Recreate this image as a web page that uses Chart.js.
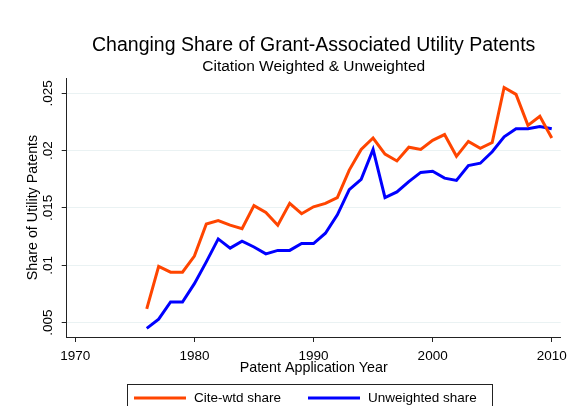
<!DOCTYPE html>
<html>
<head>
<meta charset="utf-8">
<script src="https://cdn.jsdelivr.net/npm/chart.js@4.4.1/dist/chart.umd.min.js"></script>
<style>
  html, body { margin: 0; padding: 0; background: #fff; }
  #wrap { width: 573px; height: 406px; }
</style>
</head>
<body>
<div id="wrap"><canvas id="chart" width="573" height="406"></canvas></div>
<script>
// Grant-associated share of utility patents, 1976-2010

const years = [
  1976, 1977, 1978, 1979, 1980, 1981, 1982, 1983, 1984, 1985, 1986, 1987,
  1988, 1989, 1990, 1991, 1992, 1993, 1994, 1995, 1996, 1997, 1998, 1999,
  2000, 2001, 2002, 2003, 2004, 2005, 2006, 2007, 2008, 2009, 2010
];

const citeWtd = [
  0.0062, 0.0099, 0.0094, 0.0094, 0.0108, 0.0136, 0.0139, 0.0135, 0.0132, 0.0152, 0.0146, 0.0135,
  0.0154, 0.0145, 0.0151, 0.0154, 0.0159, 0.0183, 0.0201, 0.0211, 0.0197, 0.0191, 0.0203, 0.0201,
  0.0209, 0.0214, 0.0195, 0.0208, 0.0202, 0.0207, 0.0255, 0.0249, 0.0222, 0.0230, 0.0211
];

const unweighted = [
  0.0045, 0.0053, 0.0068, 0.0068, 0.0084, 0.0103, 0.0123, 0.0115, 0.0121, 0.0116, 0.0110, 0.0113,
  0.0113, 0.0119, 0.0119, 0.0128, 0.0144, 0.0166, 0.0175, 0.0201, 0.0159, 0.0164, 0.0173, 0.0181,
  0.0182, 0.0176, 0.0174, 0.0187, 0.0189, 0.0199, 0.0212, 0.0219, 0.0219, 0.0221, 0.0219
];

const xTicks = [1970, 1980, 1990, 2000, 2010];
const yTicks = [0.005, 0.01, 0.015, 0.02, 0.025];

const FONT = '"Liberation Sans", Arial, Helvetica, sans-serif';
const INK = '#222';

function toPoints(ys) {
  return years.map((yr, i) => ({ x: yr, y: ys[i] }));
}

// stata style legend: boxed, under the x axis title
const boxLegend = {
  id: 'boxLegend',
  afterDraw(chart) {
    const ctx = chart.ctx;
    const ds = chart.data.datasets;
    ctx.save();
    ctx.strokeStyle = INK;
    ctx.lineWidth = 1;
    ctx.strokeRect(127.5, 384.5, 365, 30);
    ctx.font = '13.5px ' + FONT;
    ctx.fillStyle = '#000';
    ctx.textBaseline = 'middle';
    const slots = [134, 308];
    ds.forEach((d, i) => {
      const x0 = slots[i];
      ctx.strokeStyle = d.borderColor;
      ctx.lineWidth = 3;
      ctx.beginPath();
      ctx.moveTo(x0, 398);
      ctx.lineTo(x0 + 52, 398);
      ctx.stroke();
      ctx.fillText(d.label, x0 + 60, 398);
    });
    ctx.restore();
  }
};

new Chart(document.getElementById('chart'), {
  type: 'line',
  data: {
    datasets: [
      {
        label: 'Cite-wtd share',
        data: toPoints(citeWtd),
        borderColor: '#ff4500',
        borderWidth: 3,
        pointRadius: 0,
        tension: 0,
      },
      {
        label: 'Unweighted share',
        data: toPoints(unweighted),
        borderColor: '#0000ff',
        borderWidth: 3,
        pointRadius: 0,
        tension: 0,
      },
    ],
  },
  options: {
    responsive: false,
    animation: false,
    layout: { padding: { left: 0, right: 10, top: 0, bottom: 22 } },
    plugins: {
      legend: { display: false },
      tooltip: { enabled: false },
      title: {
        display: true,
        fullSize: false,
        text: 'Changing Share of Grant-Associated Utility Patents',
        color: '#000',
        font: { family: FONT, size: 19.5, weight: 'normal' },
        padding: { top: 33.6, bottom: 0 },
      },
      subtitle: {
        display: true,
        fullSize: false,
        text: 'Citation Weighted & Unweighted',
        color: '#000',
        font: { family: FONT, size: 15.5, weight: 'normal' },
        padding: { top: 0, bottom: 2.4 },
      },
    },
    scales: {
      x: {
        type: 'linear',
        min: 1969.28,
        max: 2010.75,
        afterBuildTicks: (s) => { s.ticks = xTicks.map(v => ({ value: v })); },
        afterFit: (s) => { s.height = 47; },
        grid: { drawOnChartArea: false, tickLength: 5, tickColor: INK },
        border: { display: true, color: INK, width: 1 },
        ticks: {
          color: '#000',
          font: { family: FONT, size: 13.5 },
          padding: 6,
          maxRotation: 0,
          callback: (v) => String(v),
        },
        title: {
          display: true,
          text: 'Patent Application Year',
          color: '#000',
          font: { family: FONT, size: 14.3 },
          padding: { top: 0, bottom: 6.9 },
        },
      },
      y: {
        min: 0.00375,
        max: 0.02633,
        afterBuildTicks: (s) => { s.ticks = yTicks.map(v => ({ value: v })); },
        afterFit: (s) => { s.width = 66.7; },
        grid: { color: '#eaf2f3', lineWidth: 1, tickLength: 5, tickColor: INK },
        border: { display: true, color: INK, width: 1 },
        ticks: {
          color: '#000',
          font: { family: FONT, size: 13.5 },
          minRotation: 90,
          maxRotation: 90,
          crossAlign: 'center',
          padding: 0.5,
          callback: (v) => String(v).replace(/^0/, ''),
        },
        title: {
          display: true,
          text: 'Share of Utility Patents',
          color: '#000',
          font: { family: FONT, size: 14.3 },
          padding: { top: 24.4, bottom: 0 },
        },
      },
    },
  },
  plugins: [boxLegend],
});
</script>
</body>
</html>
